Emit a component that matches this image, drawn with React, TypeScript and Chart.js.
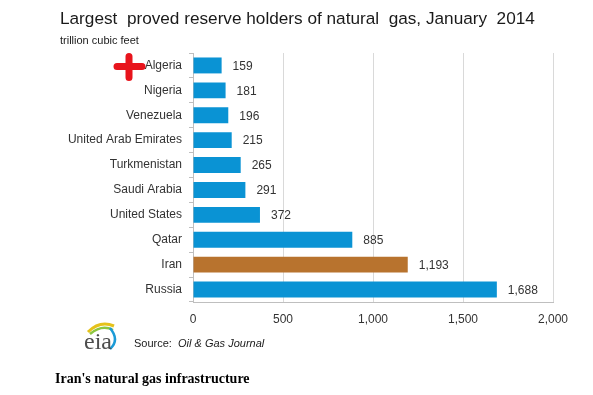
import React, { useEffect, useRef } from "react";
import { Chart, registerables } from "chart.js";

Chart.register(...registerables);

const countries = [
  "Algeria",
  "Nigeria",
  "Venezuela",
  "United Arab Emirates",
  "Turkmenistan",
  "Saudi Arabia",
  "United States",
  "Qatar",
  "Iran",
  "Russia",
];
const reserves = [159, 181, 196, 215, 265, 291, 372, 885, 1193, 1688];
const xTicks = [0, 500, 1000, 1500, 2000];
const BLUE = "#0a93d4";
const BROWN = "#b8732e";
const barColors = countries.map((c) => (c === "Iran" ? BROWN : BLUE));

const FONT = "'Liberation Sans', Arial, sans-serif";

const valueLabels = {
  id: "valueLabels",
  afterDatasetsDraw(chart: any) {
    const ctx = chart.ctx;
    const meta = chart.getDatasetMeta(0);
    ctx.save();
    ctx.fillStyle = "#333333";
    ctx.font = `12px ${FONT}`;
    ctx.textAlign = "left";
    ctx.textBaseline = "middle";
    meta.data.forEach((bar: any, i: number) => {
      ctx.fillText(reserves[i].toLocaleString("en-US"), bar.x + 11, bar.y + 1);
    });
    // red cross marker beside Algeria
    const y = chart.scales.y.getPixelForValue(0) + 1;
    const cx = 129;
    ctx.strokeStyle = "#e8141c";
    ctx.lineWidth = 7;
    ctx.lineCap = "round";
    ctx.beginPath();
    ctx.moveTo(cx - 12, y);
    ctx.lineTo(cx + 13, y);
    ctx.moveTo(cx, y - 10);
    ctx.lineTo(cx, y + 11);
    ctx.stroke();
    ctx.restore();
  },
};

export default function App() {
  const ref = useRef<HTMLCanvasElement>(null);
  useEffect(() => {
    if (!ref.current) return;
    const chart = new Chart(ref.current, {
      type: "bar",
      data: {
        labels: countries,
        datasets: [
          {
            data: reserves,
            backgroundColor: barColors,
            barPercentage: 0.64,
            categoryPercentage: 1,
          },
        ],
      },
      options: {
        indexAxis: "y",
        animation: false,
        responsive: false,
        maintainAspectRatio: false,
        layout: { padding: { left: 0, right: 40, top: 53, bottom: 63 } },
        plugins: {
          legend: { display: false },
          tooltip: { enabled: false },
          title: { display: false },
        },
        scales: {
          x: {
            min: 0,
            max: 2000,
            afterBuildTicks(scale: any) {
              scale.ticks = xTicks.map((v) => ({ value: v }));
            },
            afterFit(scale: any) {
              scale.height = 30;
            },
            ticks: {
              color: "#333333",
              font: { family: FONT, size: 12 },
              padding: 10,
              callback: (v: any) => Number(v).toLocaleString("en-US"),
            },
            grid: {
              color: "#d9d9d9",
              drawTicks: false,
              lineWidth: 1,
            },
            border: { color: "#bfbfbf" },
          },
          y: {
            afterFit(scale: any) {
              scale.width = 193;
            },
            ticks: {
              color: "#333333",
              font: { family: FONT, size: 12 },
              padding: 7,
            },
            grid: {
              drawOnChartArea: false,
              drawTicks: true,
              tickLength: 4,
              color: "#bfbfbf",
              offset: true,
            },
            border: { color: "#bfbfbf" },
          },
        },
      },
      plugins: [valueLabels],
    });
    return () => chart.destroy();
  }, []);

  return (
    <div
      style={{
        position: "fixed",
        left: 0,
        top: 0,
        width: 593,
        height: 395,
        background: "#ffffff",
        overflow: "hidden",
      }}
    >
      <canvas
        ref={ref}
        width={593}
        height={395}
        style={{ position: "absolute", left: 0, top: 0, width: 593, height: 395 }}
      />
      <div
        style={{
          position: "absolute",
          left: 60,
          top: 8,
          fontFamily: FONT,
          fontSize: 17.2,
          color: "#1a1a1a",
          whiteSpace: "pre",
        }}
      >
        Largest  proved reserve holders of natural  gas, January  2014
      </div>
      <div
        style={{
          position: "absolute",
          left: 60,
          top: 34,
          fontFamily: FONT,
          fontSize: 11,
          color: "#1a1a1a",
        }}
      >
        trillion cubic feet
      </div>
      <svg
        width={40}
        height={36}
        style={{ position: "absolute", left: 80, top: 318 }}
      >
        <path d="M8 14 Q20 2 34 8" stroke="#e5c21a" strokeWidth={3} fill="none" />
        <path d="M10 16 Q22 6 33 12" stroke="#8cc63f" strokeWidth={2.5} fill="none" />
        <path d="M30 10 Q40 22 30 31" stroke="#1b9bd7" strokeWidth={2.5} fill="none" />
        <text
          x={4}
          y={31}
          fontFamily="'Liberation Serif', serif"
          fontSize={24}
          fill="#4d4d4d"
        >
          eia
        </text>
      </svg>
      <div
        style={{
          position: "absolute",
          left: 134,
          top: 337,
          fontFamily: FONT,
          fontSize: 11,
          color: "#1a1a1a",
          whiteSpace: "pre",
        }}
      >
        Source:  <i>Oil &amp; Gas Journal</i>
      </div>
      <div
        style={{
          position: "absolute",
          left: 55,
          top: 371,
          fontFamily: "'Liberation Serif', 'Times New Roman', serif",
          fontSize: 14,
          fontWeight: "bold",
          color: "#000000",
        }}
      >
        Iran's natural gas infrastructure
      </div>
    </div>
  );
}
